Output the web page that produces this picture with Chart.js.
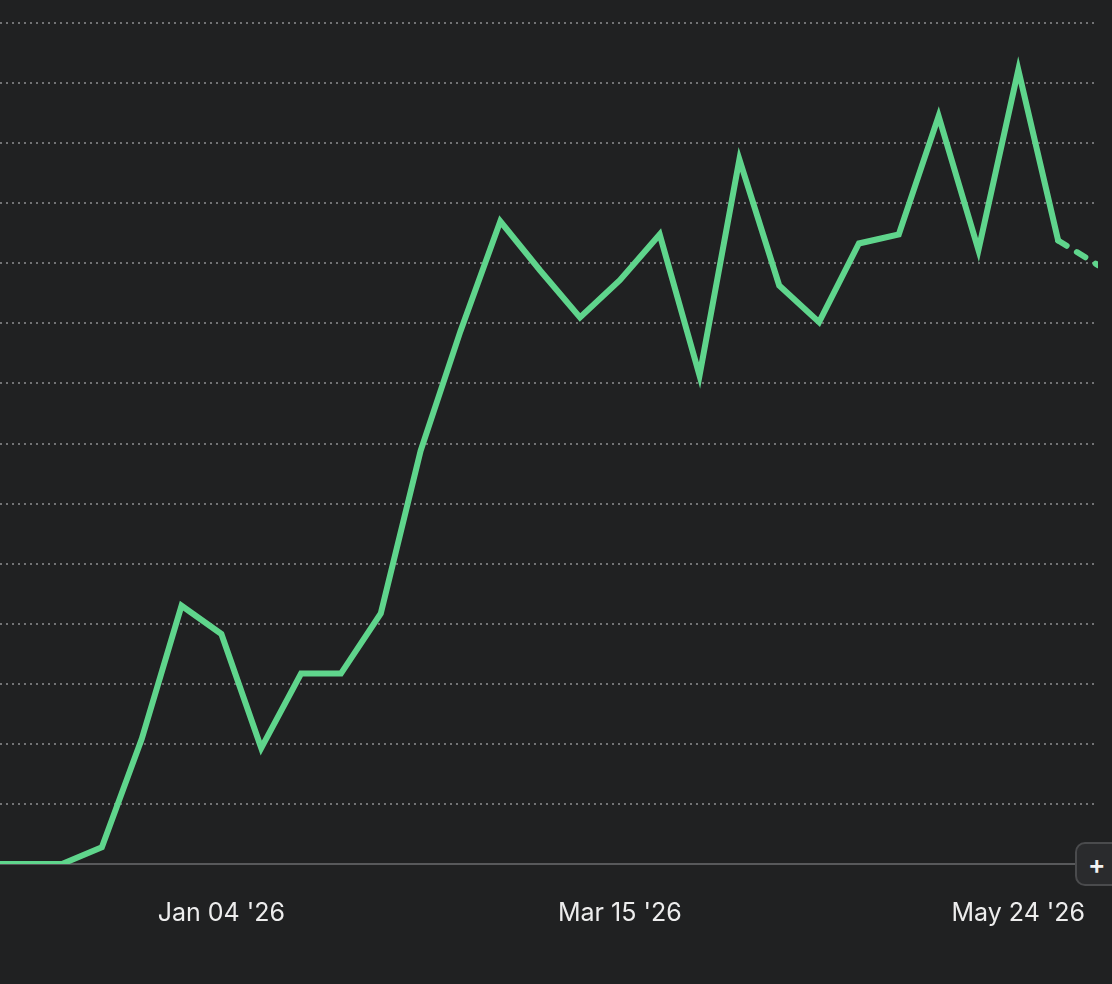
<!DOCTYPE html>
<html>
<head>
<meta charset="utf-8">
<script src="https://cdn.jsdelivr.net/npm/chart.js@4/dist/chart.umd.min.js"></script>
<style>
  html, body { margin: 0; padding: 0; background: #202122; }
  #wrap { position: relative; width: 1112px; height: 984px; overflow: hidden; background: #202122; }
  canvas { position: absolute; left: 0; top: 0; }
  #plus {
    position: absolute; left: 1075px; top: 842px; width: 48px; height: 44px;
    box-sizing: border-box; border: 2px solid #4a4b4d; border-radius: 10px;
    background: #2a2b2d; color: #f2f2f2; font: 600 26px Inter, "Noto Sans", sans-serif;
    display: flex; align-items: center; justify-content: flex-start; padding-left: 11px;
  }
</style>
</head>
<body>
<div id="wrap">
  <canvas id="c" width="1112" height="984"></canvas>
  <div id="plus">+</div>
</div>
<script>
const weeks = ["Nov 23 '25", "Nov 30 '25", "Dec 07 '25", "Dec 14 '25", "Dec 21 '25", "Dec 28 '25",
  "Jan 04 '26", "Jan 11 '26", "Jan 18 '26", "Jan 25 '26", "Feb 01 '26", "Feb 08 '26", "Feb 15 '26",
  "Feb 22 '26", "Mar 01 '26", "Mar 08 '26", "Mar 15 '26", "Mar 22 '26", "Mar 29 '26", "Apr 05 '26",
  "Apr 12 '26", "Apr 19 '26", "Apr 26 '26", "May 03 '26", "May 10 '26", "May 17 '26", "May 24 '26",
  "May 31 '26", "Jun 07 '26"];
const values = [0, 0, 0, 0.28, 2.08, 4.3, 3.83, 1.93, 3.17, 3.17, 4.17, 6.88, 8.87,
  10.7, 9.88, 9.1, 9.72, 10.48, 8.13, 11.73, 9.63, 9.02, 10.33, 10.48, 12.45, 10.22, 13.22,
  10.38, 9.97];
const xTickLabels = ["Jan 04 '26", "Mar 15 '26", "May 24 '26"];
const yGridValues = [1, 2, 3, 4, 5, 6, 7, 8, 9, 10, 11, 12, 13, 14];

const points = values.map((v, i) => ({ x: i, y: v }));
const lastIdx = values.length - 1;

new Chart(document.getElementById('c'), {
  type: 'line',
  data: {
    datasets: [{
      data: points,
      borderColor: '#5fd58c',
      borderWidth: 6,
      pointRadius: 0,
      tension: 0,
      borderJoinStyle: 'miter',
      borderCapStyle: 'round',
      segment: {
        borderDash: ctx => ctx.p1DataIndex === lastIdx ? [10, 12] : undefined
      }
    }]
  },
  options: {
    responsive: false,
    animation: false,
    devicePixelRatio: 1,
    layout: { padding: { left: 0, right: 14, top: 0, bottom: 22 } },
    plugins: { legend: { display: false }, tooltip: { enabled: false } },
    scales: {
      x: {
        type: 'linear',
        min: 0.444,
        max: lastIdx,
        afterBuildTicks: s => { s.ticks = xTickLabels.map(l => ({ value: weeks.indexOf(l) })); },
        afterFit: s => { s.paddingLeft = 0; s.paddingRight = 0; },
        ticks: {
          callback: v => weeks[v],
          color: '#ededed',
          font: { family: 'Inter, "Noto Sans", sans-serif', size: 25 },
          padding: 34,
          maxRotation: 0,
          autoSkip: false
        },
        grid: { display: false, drawTicks: false },
        border: { display: true, color: '#58595b', width: 2 }
      },
      y: {
        min: 0,
        max: 14.383,
        afterBuildTicks: s => { s.ticks = yGridValues.map(v => ({ value: v })); },
        afterFit: s => { s.width = 0; s.paddingTop = 0; s.paddingBottom = 0; },
        ticks: { display: false },
        grid: { color: '#727375', lineWidth: 2, drawTicks: false },
        border: { display: false, dash: [2, 4] }
      }
    }
  }
});
</script>
</body>
</html>
